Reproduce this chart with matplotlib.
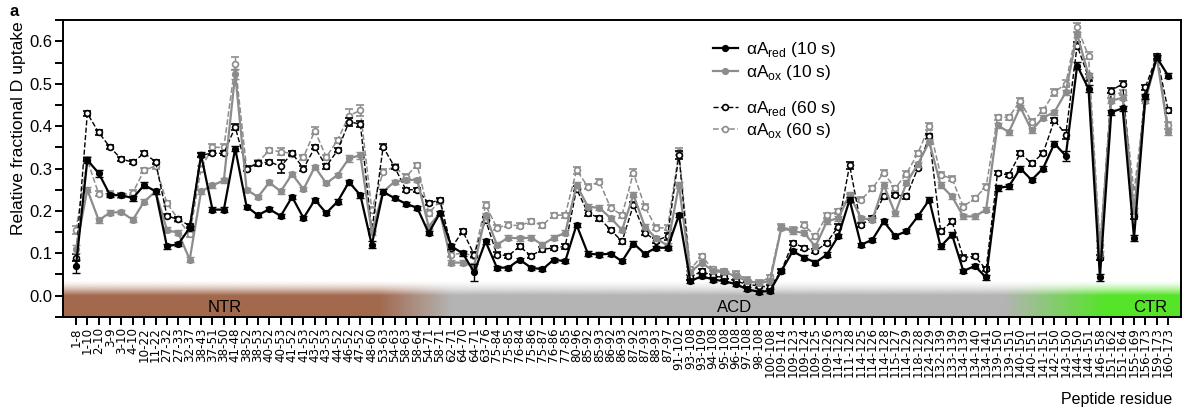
import numpy as np
import matplotlib.pyplot as plt
from matplotlib.ticker import MultipleLocator

plt.rcParams['font.family'] = ['Liberation Sans', 'DejaVu Sans']
plt.rcParams['mathtext.fontset'] = 'custom'
plt.rcParams['mathtext.rm'] = 'Liberation Sans'

# peptide labels
peptides = ["1-8", "1-10", "2-10", "3-9", "3-10", "4-10", "10-22", "11-22", "27-32", "27-33",
            "32-37", "38-43", "37-51", "38-50", "41-48", "38-52", "38-53", "40-52", "40-53", "41-52",
            "41-53", "43-52", "43-53", "44-52", "46-52", "47-52", "48-60", "53-63", "54-63", "58-63",
            "58-64", "54-71", "58-71", "62-71", "64-70", "64-71", "63-76", "75-84", "75-85", "76-84",
            "75-86", "75-87", "76-86", "77-85", "80-96", "85-92", "85-93", "86-92", "86-93", "87-92",
            "87-93", "88-93", "87-97", "91-102", "93-108", "93-109", "94-108", "95-108", "96-108", "97-108",
            "98-108", "100-108", "109-114", "109-123", "109-124", "109-125", "109-126", "114-123", "111-128", "114-125",
            "114-126", "114-128", "115-127", "114-129", "118-128", "124-129", "132-139", "133-139", "134-139", "134-140",
            "134-141", "139-150", "139-151", "140-150", "140-151", "141-151", "142-150", "143-150", "144-150", "144-151",
            "146-158", "151-162", "151-164", "155-169", "156-173", "159-173", "160-173"]

red_10 = [0.069, 0.32, 0.289, 0.237, 0.237, 0.23, 0.261, 0.246, 0.116, 0.122,
          0.16, 0.332, 0.203, 0.203, 0.347, 0.21, 0.19, 0.204, 0.188, 0.233,
          0.183, 0.226, 0.195, 0.222, 0.268, 0.237, 0.12, 0.245, 0.23, 0.217,
          0.207, 0.148, 0.195, 0.116, 0.10, 0.055, 0.128, 0.066, 0.066, 0.085,
          0.066, 0.062, 0.085, 0.081, 0.167, 0.099, 0.097, 0.099, 0.081, 0.123,
          0.099, 0.113, 0.113, 0.19, 0.034, 0.046, 0.038, 0.034, 0.027, 0.015,
          0.009, 0.011, 0.058, 0.105, 0.09, 0.078, 0.097, 0.14, 0.226, 0.12,
          0.132, 0.175, 0.141, 0.152, 0.187, 0.226, 0.116, 0.144, 0.058, 0.07,
          0.043, 0.254, 0.258, 0.30, 0.273, 0.30, 0.359, 0.33, 0.543, 0.488,
          0.043, 0.433, 0.442, 0.136, 0.47, 0.562, 0.519]
ox_10 = [0.11, 0.25, 0.178, 0.196, 0.197, 0.179, 0.222, 0.246, 0.155, 0.148,
         0.085, 0.246, 0.26, 0.272, 0.523, 0.25, 0.233, 0.267, 0.246, 0.287,
         0.251, 0.304, 0.265, 0.285, 0.324, 0.331, 0.15, 0.245, 0.269, 0.273,
         0.273, 0.163, 0.195, 0.078, 0.078, 0.07, 0.19, 0.12, 0.137, 0.135,
         0.137, 0.12, 0.137, 0.148, 0.261, 0.21, 0.207, 0.183, 0.155, 0.238,
         0.163, 0.135, 0.118, 0.261, 0.055, 0.078, 0.058, 0.055, 0.046, 0.034,
         0.03, 0.034, 0.16, 0.152, 0.148, 0.116, 0.175, 0.183, 0.238, 0.183,
         0.179, 0.261, 0.194, 0.266, 0.31, 0.363, 0.261, 0.234, 0.187, 0.187,
         0.203, 0.402, 0.386, 0.445, 0.39, 0.42, 0.433, 0.48, 0.617, 0.52,
         0.10, 0.46, 0.467, 0.20, 0.46, 0.562, 0.386]
red_60 = [0.09, 0.43, 0.385, 0.35, 0.322, 0.315, 0.336, 0.316, 0.188, 0.18,
          0.165, 0.332, 0.336, 0.336, 0.398, 0.30, 0.312, 0.316, 0.305, 0.336,
          0.30, 0.35, 0.305, 0.343, 0.41, 0.405, 0.152, 0.351, 0.304, 0.25,
          0.25, 0.218, 0.226, 0.113, 0.152, 0.097, 0.179, 0.097, 0.094, 0.116,
          0.094, 0.109, 0.113, 0.116, 0.252, 0.195, 0.183, 0.155, 0.128, 0.214,
          0.148, 0.13, 0.14, 0.332, 0.043, 0.058, 0.046, 0.043, 0.034, 0.027,
          0.023, 0.02, 0.058, 0.125, 0.113, 0.105, 0.125, 0.163, 0.308, 0.167,
          0.183, 0.234, 0.238, 0.234, 0.301, 0.376, 0.152, 0.175, 0.09, 0.093,
          0.062, 0.289, 0.285, 0.336, 0.312, 0.336, 0.414, 0.38, 0.59, 0.515,
          0.09, 0.484, 0.50, 0.187, 0.492, 0.565, 0.437]
ox_60 = [0.155, 0.32, 0.24, 0.24, 0.237, 0.243, 0.296, 0.306, 0.218, 0.18,
         0.145, 0.30, 0.35, 0.35, 0.547, 0.30, 0.315, 0.343, 0.34, 0.335,
         0.327, 0.389, 0.327, 0.367, 0.425, 0.437, 0.203, 0.292, 0.304, 0.281,
         0.308, 0.195, 0.223, 0.097, 0.10, 0.094, 0.214, 0.16, 0.167, 0.165,
         0.175, 0.166, 0.19, 0.19, 0.296, 0.257, 0.269, 0.207, 0.19, 0.29,
         0.21, 0.16, 0.16, 0.34, 0.062, 0.093, 0.062, 0.058, 0.052, 0.038,
         0.031, 0.043, 0.163, 0.155, 0.167, 0.14, 0.19, 0.199, 0.234, 0.226,
         0.253, 0.29, 0.253, 0.288, 0.336, 0.40, 0.285, 0.276, 0.21, 0.23,
         0.257, 0.421, 0.421, 0.46, 0.41, 0.437, 0.48, 0.50, 0.633, 0.566,
         0.12, 0.472, 0.48, 0.245, 0.465, 0.56, 0.402]

# error bars (SD), read roughly from the cap positions
err_red_10 = [0.015, 0.006, 0.008, 0.005, 0.005, 0.006, 0.006, 0.005, 0.005, 0.005,
              0.005, 0.006, 0.006, 0.006, 0.006, 0.005, 0.005, 0.005, 0.005, 0.005,
              0.005, 0.005, 0.005, 0.005, 0.006, 0.006, 0.008, 0.006, 0.005, 0.005,
              0.005, 0.005, 0.005, 0.005, 0.006, 0.02, 0.006, 0.005, 0.005, 0.005,
              0.005, 0.005, 0.005, 0.005, 0.005, 0.006, 0.006, 0.005, 0.005, 0.005,
              0.005, 0.005, 0.005, 0.005, 0.005, 0.005, 0.005, 0.005, 0.005, 0.005,
              0.005, 0.005, 0.005, 0.005, 0.005, 0.005, 0.005, 0.005, 0.006, 0.005,
              0.005, 0.005, 0.005, 0.005, 0.005, 0.006, 0.006, 0.006, 0.005, 0.005,
              0.005, 0.006, 0.006, 0.006, 0.005, 0.005, 0.006, 0.012, 0.008, 0.008,
              0.008, 0.006, 0.006, 0.006, 0.006, 0.006, 0.006]
err_ox_10 = [0.01, 0.006, 0.006, 0.005, 0.005, 0.006, 0.006, 0.006, 0.006, 0.006,
             0.006, 0.006, 0.006, 0.006, 0.012, 0.005, 0.005, 0.005, 0.005, 0.005,
             0.005, 0.005, 0.005, 0.005, 0.008, 0.008, 0.006, 0.006, 0.005, 0.005,
             0.005, 0.005, 0.005, 0.006, 0.006, 0.006, 0.006, 0.006, 0.006, 0.006,
             0.006, 0.006, 0.006, 0.006, 0.006, 0.006, 0.006, 0.006, 0.006, 0.006,
             0.006, 0.006, 0.006, 0.006, 0.005, 0.005, 0.005, 0.005, 0.005, 0.005,
             0.005, 0.005, 0.006, 0.006, 0.006, 0.006, 0.006, 0.006, 0.006, 0.006,
             0.006, 0.006, 0.006, 0.006, 0.006, 0.006, 0.006, 0.006, 0.006, 0.006,
             0.006, 0.006, 0.006, 0.006, 0.006, 0.006, 0.006, 0.006, 0.006, 0.006,
             0.006, 0.006, 0.006, 0.006, 0.006, 0.006, 0.008]
err_red_60 = [0.008, 0.006, 0.006, 0.005, 0.005, 0.005, 0.005, 0.005, 0.005, 0.005,
              0.005, 0.005, 0.005, 0.005, 0.006, 0.005, 0.005, 0.005, 0.015, 0.005,
              0.005, 0.005, 0.005, 0.005, 0.01, 0.008, 0.006, 0.006, 0.005, 0.005,
              0.005, 0.005, 0.005, 0.005, 0.006, 0.006, 0.006, 0.005, 0.005, 0.005,
              0.005, 0.005, 0.005, 0.005, 0.006, 0.006, 0.006, 0.005, 0.005, 0.006,
              0.005, 0.005, 0.008, 0.01, 0.005, 0.005, 0.005, 0.005, 0.005, 0.005,
              0.005, 0.005, 0.005, 0.005, 0.005, 0.005, 0.005, 0.005, 0.008, 0.005,
              0.005, 0.005, 0.005, 0.005, 0.005, 0.006, 0.006, 0.005, 0.005, 0.005,
              0.005, 0.005, 0.005, 0.005, 0.005, 0.005, 0.006, 0.01, 0.008, 0.008,
              0.006, 0.006, 0.006, 0.006, 0.006, 0.006, 0.006]
err_ox_60 = [0.01, 0.006, 0.006, 0.006, 0.006, 0.006, 0.006, 0.006, 0.006, 0.006,
             0.006, 0.006, 0.008, 0.008, 0.015, 0.006, 0.006, 0.006, 0.008, 0.006,
             0.006, 0.008, 0.006, 0.006, 0.015, 0.012, 0.006, 0.006, 0.006, 0.006,
             0.006, 0.006, 0.006, 0.006, 0.006, 0.006, 0.008, 0.006, 0.006, 0.006,
             0.006, 0.006, 0.006, 0.006, 0.008, 0.006, 0.006, 0.006, 0.006, 0.008,
             0.006, 0.006, 0.006, 0.008, 0.005, 0.005, 0.005, 0.005, 0.005, 0.005,
             0.005, 0.005, 0.006, 0.006, 0.006, 0.006, 0.006, 0.006, 0.006, 0.006,
             0.006, 0.006, 0.006, 0.006, 0.006, 0.008, 0.006, 0.006, 0.006, 0.006,
             0.006, 0.006, 0.006, 0.006, 0.006, 0.006, 0.008, 0.008, 0.01, 0.008,
             0.008, 0.006, 0.006, 0.006, 0.006, 0.006, 0.008]

regions = ["NTR", "ACD", "CTR"]
region_pos = [13.1, 57.9, 94.4]

x = np.arange(len(peptides))
xl = (-1.15, len(peptides) - 1 + 1.15)

fig = plt.figure(figsize=(11.86, 4.12), dpi=100)
ax = fig.add_axes([0.053, 0.231, 0.943, 0.72])

# coloured domain band with soft edges
brown = np.array([162, 105, 77]) / 255
grey = np.array([180, 180, 180]) / 255
green = np.array([85, 228, 40]) / 255
bx = np.linspace(xl[0], xl[1], 1000)
stops = [xl[0], 26.5, 33.0, 81.5, 90.5, xl[1]]
cols = [brown, brown, grey, grey, green, green]
rgb = np.stack([np.interp(bx, stops, [c[k] for c in cols]) for k in range(3)], axis=1)
by = np.linspace(-0.05, 0.035, 60)
alpha = np.clip((0.035 - by) / 0.035, 0, 1) ** 1.5
band = np.zeros((len(by), len(bx), 4))
band[:, :, :3] = rgb[None, :, :]
band[:, :, 3] = alpha[:, None]
ax.imshow(band, extent=[xl[0], xl[1], -0.05, 0.035], origin='lower',
          aspect='auto', zorder=0, interpolation='bilinear')
for name, p in zip(regions, region_pos):
    ax.text(p, -0.027, name, ha='center', va='center', fontsize=12, zorder=1)

ekw = dict(capsize=2.6, elinewidth=1.0, capthick=1.0, markersize=4.2)
e4 = ax.errorbar(x, ox_60, yerr=err_ox_60, color='#8c8c8c', ls='--', lw=1.1,
                 marker='o', mfc='white', mec='#8c8c8c', mew=1.2, zorder=2, **ekw)
e3 = ax.errorbar(x, red_60, yerr=err_red_60, color='black', ls='--', lw=1.0,
                 marker='o', mfc='white', mec='black', mew=1.2, zorder=3, **ekw)
e2 = ax.errorbar(x, ox_10, yerr=err_ox_10, color='#8c8c8c', ls='-', lw=1.6,
                 marker='o', mfc='#8c8c8c', mec='#8c8c8c', zorder=4, **ekw)
e1 = ax.errorbar(x, red_10, yerr=err_red_10, color='black', ls='-', lw=1.6,
                 marker='o', mfc='black', mec='black', zorder=5, **ekw)

ax.set_xlim(xl)
ax.set_ylim(-0.05, 0.65)
ax.set_xticks(x)
ax.set_xticklabels(peptides, rotation=90, fontsize=8.6, family='DejaVu Sans')
ax.yaxis.set_major_locator(MultipleLocator(0.1))
ax.yaxis.set_minor_locator(MultipleLocator(0.05))
ax.set_yticks(np.arange(0, 0.61, 0.1))
ax.set_yticklabels([f"{v:.1f}" for v in np.arange(0, 0.61, 0.1)], fontsize=12)
ax.tick_params(axis='both', which='both', direction='out', length=5.5, width=1.4)
ax.tick_params(axis='x', pad=2)
ax.tick_params(axis='y', pad=2)
for s in ax.spines.values():
    s.set_linewidth(1.4)
ax.set_ylabel("Relative fractional D uptake", fontsize=12.6)
ax.yaxis.set_label_coords(-0.033, 0.636)

lkw = dict(loc='upper left', frameon=False, fontsize=12.5, handlelength=1.45,
           handletextpad=0.45, labelspacing=0.2, borderaxespad=0)
leg1 = ax.legend([e1[0], e2[0]], ["αA$_{\\mathrm{red}}$ (10 s)", "αA$_{\\mathrm{ox}}$ (10 s)"],
                 bbox_to_anchor=(0.575, 0.955), **lkw)
ax.add_artist(leg1)
ax.legend([e3[0], e4[0]], ["αA$_{\\mathrm{red}}$ (60 s)", "αA$_{\\mathrm{ox}}$ (60 s)"],
          bbox_to_anchor=(0.575, 0.758), **lkw)

fig.text(0.988, 0.012, "Peptide residue", ha='right', va='bottom', fontsize=11.5)
fig.text(0.008, 0.96, "a", fontsize=12, fontweight='bold')

fig.savefig("out.png", dpi=100)
